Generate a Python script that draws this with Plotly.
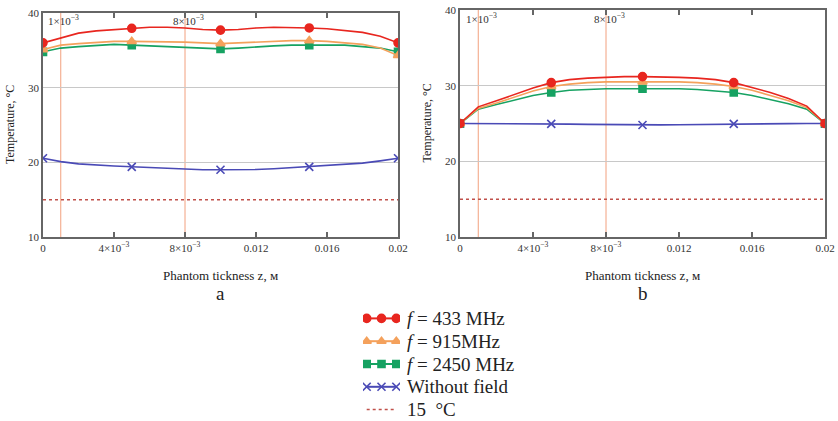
import plotly.graph_objects as go

# ---------------- data ----------------
Z = [0.000, 0.001, 0.002, 0.003, 0.004, 0.005, 0.006, 0.007, 0.008, 0.009, 0.010,
     0.011, 0.012, 0.013, 0.014, 0.015, 0.016, 0.017, 0.018, 0.019, 0.020]
MARK_IDX = [0, 5, 10, 15, 20]

# panel a
A_433 = [36.0, 36.7, 37.3, 37.6, 37.8, 37.95, 38.1, 38.1, 38.0, 37.8, 37.7,
         37.8, 38.0, 38.1, 38.1, 38.0, 37.9, 37.7, 37.4, 36.9, 36.0]
A_915 = [35.1, 35.7, 35.9, 36.1, 36.2, 36.2, 36.2, 36.2, 36.1, 36.0, 35.9,
         36.0, 36.1, 36.2, 36.3, 36.3, 36.2, 36.0, 35.8, 35.3, 34.3]
A_2450 = [34.8, 35.3, 35.5, 35.7, 35.8, 35.7, 35.6, 35.5, 35.4, 35.3, 35.2,
          35.3, 35.5, 35.6, 35.7, 35.7, 35.8, 35.7, 35.5, 35.3, 34.8]
A_NOF = [20.55, 20.1, 19.8, 19.6, 19.5, 19.4, 19.3, 19.2, 19.05, 19.0, 19.0,
         19.0, 19.05, 19.15, 19.3, 19.4, 19.5, 19.7, 19.9, 20.2, 20.55]

# panel b
B_433 = [25.0, 27.2, 28.0, 28.9, 29.7, 30.4, 30.8, 31.0, 31.1, 31.2, 31.2,
         31.2, 31.1, 31.0, 30.8, 30.4, 29.8, 29.1, 28.3, 27.3, 25.0]
B_915 = [25.0, 27.0, 27.7, 28.5, 29.3, 29.9, 30.2, 30.4, 30.5, 30.5, 30.5,
         30.5, 30.5, 30.4, 30.2, 29.9, 29.4, 28.7, 28.0, 27.1, 25.0]
B_2450 = [25.0, 26.9, 27.5, 28.1, 28.7, 29.1, 29.4, 29.5, 29.6, 29.6, 29.6,
          29.6, 29.6, 29.5, 29.3, 29.1, 28.7, 28.2, 27.6, 26.9, 25.0]
B_NOF = [25.0, 25.0, 24.98, 24.97, 24.96, 24.95, 24.92, 24.88, 24.84, 24.82, 24.8,
         24.82, 24.84, 24.88, 24.92, 24.95, 24.96, 24.97, 24.98, 25.0, 25.0]

REF_TEMP = 15
VLINES = [0.001, 0.008]
VLINE_LABELS = ["1×10<sup>−3</sup>", "8×10<sup>−3</sup>"]
X_TICKS = [0, 0.004, 0.008, 0.012, 0.016, 0.020]
X_TICKTEXT = ["0", "4×10<sup>−3</sup>", "8×10<sup>−3</sup>", "0.012", "0.016", "0.02"]
Y_TICKS = [10, 20, 30, 40]

SERIES_NAMES = ["<i>f</i> = 433 MHz", "<i>f</i> = 915MHz", "<i>f</i> = 2450 MHz",
                "Without field", "15  °C"]

# ---------------- styles ----------------
FONT = "Liberation Serif"
COLORS = ["#e8261f", "#f4a15c", "#16a262", "#4a4ab6"]
SYMBOLS = ["circle", "triangle-up", "square", "x-thin-open"]
MSIZES = [8, 8, 7, 8]
REF_COLOR = "#c0504a"
VLINE_COLOR = "#f2a07e"
FRAME = "#666666"

fig = go.Figure()

panels = [
    ("x", "y", [A_433, A_915, A_2450, A_NOF]),
    ("x2", "y2", [B_433, B_915, B_2450, B_NOF]),
]

for xa, ya, series in panels:
    for v in VLINES:
        fig.add_shape(type="line", xref=xa, yref=ya, x0=v, x1=v, y0=10, y1=40,
                      line=dict(color=VLINE_COLOR, width=1), layer="below")
    fig.add_trace(go.Scatter(
        x=[Z[0], Z[-1]], y=[REF_TEMP, REF_TEMP], xaxis=xa, yaxis=ya, mode="lines",
        line=dict(color=REF_COLOR, width=1.5, dash="dot"), showlegend=False))
    for k in [3, 2, 1, 0]:
        ys = series[k]
        fig.add_trace(go.Scatter(
            x=Z, y=ys, xaxis=xa, yaxis=ya, mode="lines",
            line=dict(color=COLORS[k], width=1.6), showlegend=False, hoverinfo="skip"))
        fig.add_trace(go.Scatter(
            x=[Z[i] for i in MARK_IDX], y=[ys[i] for i in MARK_IDX],
            xaxis=xa, yaxis=ya, mode="markers",
            marker=dict(color=COLORS[k], symbol=SYMBOLS[k], size=MSIZES[k],
                        line=dict(color=COLORS[k], width=1.6)),
            showlegend=False))

# ---------------- custom legend (sample glyphs on a hidden helper axis) ----------------
LEG_SAMPLE = [0, 1, 2]
for k in range(4):
    fig.add_trace(go.Scatter(
        x=LEG_SAMPLE, y=[k] * len(LEG_SAMPLE), xaxis="x3", yaxis="y3",
        mode="lines+markers", showlegend=False, hoverinfo="skip",
        line=dict(color=COLORS[k], width=2),
        marker=dict(color=COLORS[k], symbol=SYMBOLS[k], size=MSIZES[k],
                    line=dict(color=COLORS[k], width=1.6))))
fig.add_trace(go.Scatter(
    x=[LEG_SAMPLE[0], LEG_SAMPLE[-1]], y=[4, 4], xaxis="x3", yaxis="y3",
    mode="lines", showlegend=False, hoverinfo="skip",
    line=dict(color=REF_COLOR, width=1.5, dash="dot")))

W, H = 838, 421
def px_x(p):
    return p / W
def px_y(p):
    return 1 - p / H

xdomA = [px_x(43), px_x(398)]
xdomB = [px_x(460), px_x(825)]
ydomA = [px_y(237), px_y(13)]
ydomB = [px_y(237), px_y(10)]

xaxis_common = dict(
    range=[0, 0.02], tickvals=X_TICKS, ticktext=X_TICKTEXT,
    ticks="inside", ticklen=5, tickwidth=1.5, tickcolor=FRAME,
    showline=True, linecolor=FRAME, linewidth=1.5, mirror="ticks",
    showgrid=False, zeroline=False,
    tickfont=dict(family=FONT, size=11, color="#333333"))
yaxis_common = dict(
    range=[10, 40], tickvals=Y_TICKS, ticks="",
    showline=True, linecolor=FRAME, linewidth=1.5, mirror=True,
    showgrid=True, gridcolor="#c8c8c8", gridwidth=1, zeroline=False,
    tickfont=dict(family=FONT, size=11, color="#333333"))
hidden = dict(visible=False, showgrid=False, zeroline=False, fixedrange=True)

fig.update_layout(
    width=W, height=H,
    margin=dict(l=0, r=0, t=0, b=0, autoexpand=False),
    paper_bgcolor="white", plot_bgcolor="white",
    font=dict(family=FONT, color="#222222"),
    xaxis=dict(domain=xdomA, anchor="y", **xaxis_common),
    yaxis=dict(domain=ydomA, anchor="x", **yaxis_common),
    xaxis2=dict(domain=xdomB, anchor="y2", **xaxis_common),
    yaxis2=dict(domain=ydomB, anchor="x2", **yaxis_common),
    xaxis3=dict(domain=[px_x(363), px_x(400)], anchor="y3", range=[-0.25, 2.25], **hidden),
    yaxis3=dict(domain=[0, px_y(307)], anchor="x3", range=[4.5, -0.5], **hidden),
    showlegend=False,
)

ann = []
for xa, ya, xd, yd, lab in [("x", "y", xdomA, ydomA, "a"), ("x2", "y2", xdomB, ydomB, "b")]:
    cx = (xd[0] + xd[1]) / 2
    ann.append(dict(xref="paper", yref="paper", x=cx, y=px_y(275), text="Phantom tickness z, м",
                    showarrow=False, font=dict(family=FONT, size=13, color="#222222"),
                    xanchor="center", yanchor="middle"))
    ann.append(dict(xref="paper", yref="paper", x=cx, y=px_y(293), text=lab,
                    showarrow=False, font=dict(family=FONT, size=19, color="#222222"),
                    xanchor="center", yanchor="middle"))
    ann.append(dict(xref="paper", yref="paper", x=xd[0] - px_x(33), y=(yd[0] + yd[1]) / 2,
                    text="Temperature, °C", textangle=-90, showarrow=False,
                    font=dict(family=FONT, size=12, color="#222222"),
                    xanchor="center", yanchor="middle"))
    for v, t in zip(VLINES, VLINE_LABELS):
        ann.append(dict(xref=xa, yref=ya, x=v, y=39.0, text=t, showarrow=False,
                        font=dict(family=FONT, size=11, color="#333333"),
                        xanchor="center", yanchor="middle", xshift=3))
for k, name in enumerate(SERIES_NAMES):
    ann.append(dict(xref="paper", yref="y3", x=px_x(405), y=k, text=name,
                    showarrow=False, font=dict(family=FONT, size=19, color="#222222"),
                    xanchor="left", yanchor="middle"))
fig.update_layout(annotations=ann)

fig.write_html("out.html")
